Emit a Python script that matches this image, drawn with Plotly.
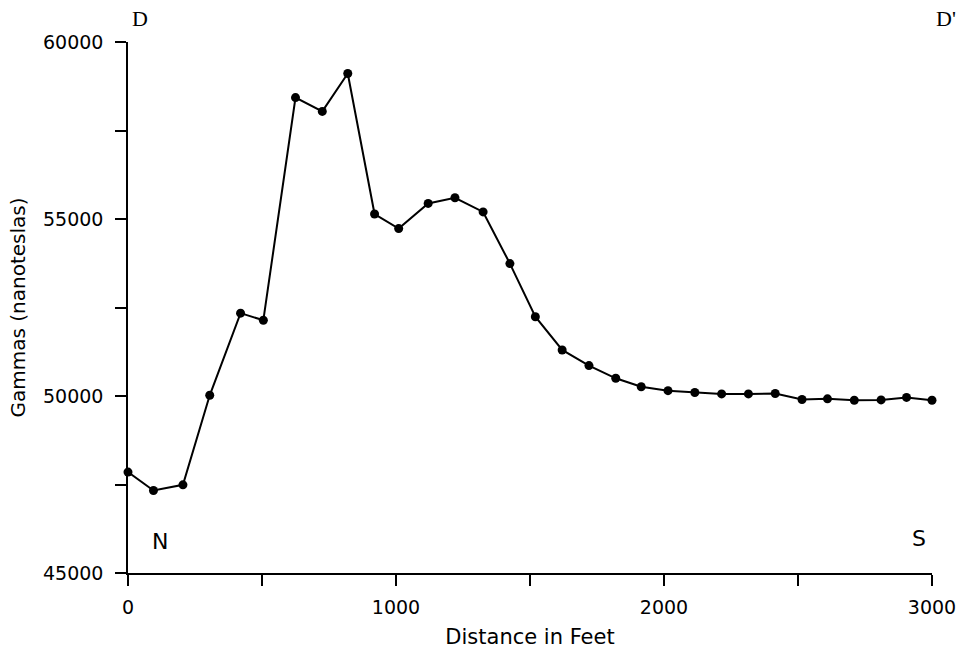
import plotly.graph_objects as go

# Data
distance_ft = [0, 95, 205, 305, 420, 505, 625, 725, 820, 920, 1010, 1120, 1220, 1325,
               1425, 1520, 1620, 1720, 1820, 1915, 2015, 2115, 2215, 2315, 2415, 2515,
               2610, 2710, 2810, 2905, 3000]
gammas = [47850, 47330, 47490, 50020, 52340, 52140, 58430, 58040, 59110, 55140, 54730,
          55440, 55600, 55200, 53740, 52240, 51300, 50860, 50500, 50260, 50150, 50100,
          50060, 50060, 50070, 49900, 49920, 49880, 49890, 49960, 49880]

x_ticks = [0, 1000, 2000, 3000]
y_ticks = [45000, 50000, 55000, 60000]

SANS = "DejaVu Sans"
SERIF = "Liberation Serif"

L, R, T, B = 128, 28, 42, 83
PW, PH = 960 - L - R, 656 - T - B

fig = go.Figure()
fig.add_trace(go.Scatter(
    x=distance_ft, y=gammas, mode="lines+markers",
    line=dict(color="black", width=2),
    marker=dict(color="black", size=9),
    cliponaxis=False, showlegend=False,
))

fig.update_layout(
    width=960, height=656,
    margin=dict(l=L, r=R, t=T, b=B),
    paper_bgcolor="white", plot_bgcolor="white",
    font=dict(family=SANS, color="black", size=19),
    xaxis=dict(
        range=[0, 3000], tickvals=x_ticks, ticktext=[str(v) for v in x_ticks],
        automargin=False,
        showline=True, linecolor="black", linewidth=1.5,
        ticks="outside", ticklen=11, tickwidth=1.5, tickcolor="black",
        minor=dict(dtick=500, ticks="outside", ticklen=11, tickwidth=1.5, tickcolor="black"),
        showgrid=False, zeroline=False, ticklabelstandoff=5,
        tickfont=dict(family=SANS, size=19),
        title=dict(text="Distance in Feet", font=dict(family=SANS, size=21), standoff=13),
    ),
    yaxis=dict(
        range=[45000, 60000], tickvals=y_ticks, ticktext=[str(v) for v in y_ticks],
        automargin=False,
        showline=True, linecolor="black", linewidth=1.5,
        ticks="outside", ticklen=11, tickwidth=1.5, tickcolor="black",
        minor=dict(dtick=2500, ticks="outside", ticklen=11, tickwidth=1.5, tickcolor="black"),
        showgrid=False, zeroline=False, ticklabelstandoff=8,
        tickfont=dict(family=SANS, size=19),
        title=dict(text="Gammas (nanoteslas)", font=dict(family=SANS, size=20), standoff=12),
    ),
)

labels = [("D", 140, 19, SERIF), ("D'", 946, 19, SERIF), ("N", 160, 541, SANS), ("S", 919, 538, SANS)]
for txt, px, py, fam in labels:
    fig.add_annotation(
        x=(px - L) / PW, y=1 - (py - T) / PH, xref="paper", yref="paper",
        text=txt, showarrow=False, xanchor="center", yanchor="middle",
        font=dict(family=fam, size=22, color="black"),
    )

fig.write_html("out.html")
